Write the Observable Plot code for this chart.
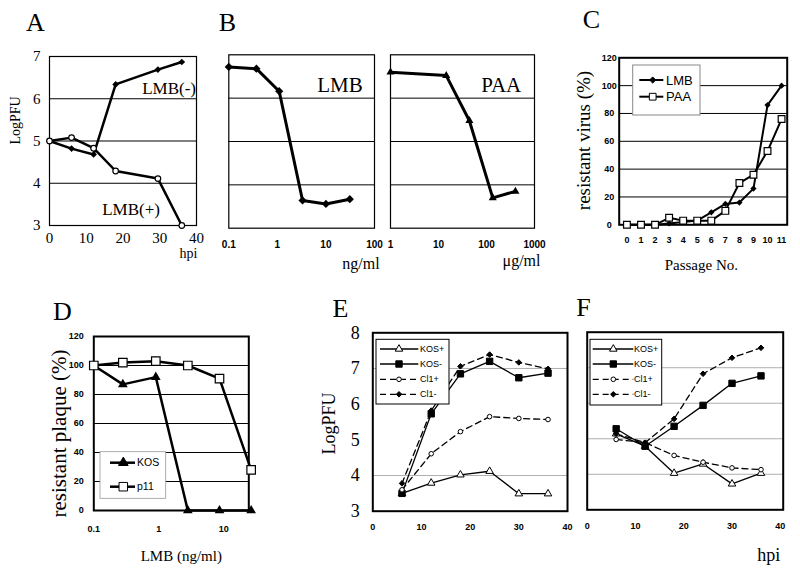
<!DOCTYPE html>
<html><head><meta charset="utf-8">
<script src="https://cdn.jsdelivr.net/npm/d3@7"></script>
<script src="https://cdn.jsdelivr.net/npm/@observablehq/plot@0.6"></script>
<style>
body{margin:0;background:#fff;}
#fig{position:relative;width:800px;height:572px;overflow:hidden;background:#fff;}
#fig svg{position:absolute;}
</style>
</head><body><div id="fig"></div>
<script>
// ---------- DATA ----------
// Panel A: LogPFU vs hpi
const hpiA = [0, 6, 12, 18, 29.5, 36];
const lmbMinusA = [5.0, 4.82, 4.68, 6.34, 6.69, 6.87];
const lmbPlusA = [5.0, 5.08, 4.83, 4.29, 4.11, 3.0];
// Panel B: dose response
const lmbConcB = [0.1, 0.37, 1.09, 3.3, 10, 31];
const lmbLogB = [6.72, 6.68, 6.16, 3.64, 3.56, 3.67];
const paaConcB = [1, 14.5, 44, 135, 400];
const paaLogB = [6.6, 6.52, 5.48, 3.70, 3.85];
// Panel C: resistant virus (%) vs passage
const passageC = [0, 1, 2, 3, 4, 5, 6, 7, 8, 9, 10, 11];
const lmbResistC = [0, 0, 0, 1, 2, 3, 9, 15, 16, 26, 86, 100];
const paaResistC = [0, 0, 0, 5, 3, 3, 3, 10, 30, 36, 53, 76];
// Panel D: resistant plaque (%) vs LMB
const lmbConcD = [0.1, 0.28, 0.9, 2.8, 8.6, 26.4];
const kosD = [100, 87, 92, 0, 0, 0];
const p11D = [100, 102, 103, 100, 91, 28];
// Panels E & F: LogPFU vs hpi
const hpiEF = [6, 12, 18, 24, 30, 36];
const eKosPlus = [3.5, 3.79, 4.02, 4.12, 3.49, 3.49];
const eKosMinus = [3.5, 5.73, 6.85, 7.2, 6.74, 6.87];
const eCl1Plus = [3.6, 4.61, 5.23, 5.65, 5.6, 5.57];
const eCl1Minus = [3.78, 5.82, 7.06, 7.39, 7.17, 6.99];
const fKosPlus = [5.14, 4.79, 4.03, 4.29, 3.73, 4.03];
const fKosMinus = [5.28, 4.79, 5.35, 5.94, 6.56, 6.77];
const fCl1Plus = [4.98, 4.89, 4.53, 4.34, 4.18, 4.13];
const fCl1Minus = [5.14, 4.89, 5.56, 6.83, 7.28, 7.56];
// tick labels
const ticksA_x = [0, 10, 20, 30, 40];
const ticksA_y = [3, 4, 5, 6, 7];
const ticksB_lmb = [0.1, 1, 10, 100];
const ticksB_paa = [1, 10, 100, 1000];
const ticksPct = [0, 20, 40, 60, 80, 100, 120];
const ticksD_x = [0.1, 1, 10];
const ticksEF_x = [0, 10, 20, 30, 40];
const ticksE_y = [3, 4, 5, 6, 7, 8];
const efSeries = ["KOS+", "KOS-", "Cl1+", "Cl1-"];

// ---------- HELPERS ----------
const SERIF = "'Liberation Serif','Times New Roman',serif";
const SANS = "'Liberation Sans',Arial,sans-serif";
const SYM = {diamond2: d3.symbolDiamond2, square: d3.symbolSquare, triangle: d3.symbolTriangle, circle: d3.symbolCircle};
const fig = document.getElementById("fig");

function label(s, x, y, size, m, o = {}) {
  return Plot.text([s], {
    frameAnchor: "top-left", dx: x - m.l, dy: y - m.t, text: d => d,
    fontSize: size, fontFamily: o.font || SERIF, fontWeight: o.weight || "normal",
    rotate: o.rotate || 0, textAnchor: o.anchor || "middle", lineAnchor: "middle", fill: "black"
  });
}
function place(p, left, top) {
  p.style.left = left + "px"; p.style.top = top + "px";
  fig.appendChild(p);
  return p;
}
function plot(m, w, h, x, y, marks) {
  return Plot.plot({
    width: w, height: h, marginTop: m.t, marginRight: m.r, marginBottom: m.b, marginLeft: m.l,
    x: {...x, axis: null}, y: {...y, axis: null},
    style: {background: "transparent", overflow: "visible"},
    marks
  });
}
function legend(svg, box, cfg, items) {
  const g = d3.select(svg).append("g");
  g.append("rect").attr("x", box.x).attr("y", box.y).attr("width", box.w).attr("height", box.h)
    .attr("fill", "white").attr("stroke", box.stroke).attr("stroke-width", box.sw);
  items.forEach((it, i) => {
    const y = cfg.ys[i];
    g.append("line").attr("x1", cfg.x1).attr("x2", cfg.x2).attr("y1", y).attr("y2", y)
      .attr("stroke", "black").attr("stroke-width", it.sw).attr("stroke-dasharray", it.dash || null);
    g.append("path").attr("d", d3.symbol(SYM[it.symbol], Math.PI * it.r * it.r)())
      .attr("transform", `translate(${cfg.mx},${y})`).attr("fill", it.fill).attr("stroke", "black").attr("stroke-width", 1);
    g.append("text").attr("x", cfg.tx).attr("y", y).attr("dy", "0.35em").attr("font-family", SANS)
      .attr("text-anchor", "start").attr("font-size", cfg.size).attr("fill", "black").text(it.name);
  });
}
function series(xs, ys) { return xs.map((x, i) => ({x, y: ys[i]})); }

// ---------- PANEL A ----------
{
  const m = {t: 56, r: 19, b: 45, l: 49};
  const minus = series(hpiA, lmbMinusA), plus = series(hpiA, lmbPlusA);
  const p = plot(m, 215, 270, {domain: [0, 40]}, {domain: [3, 7]}, [
    Plot.ruleY([4, 5, 6], {stroke: "black", strokeWidth: 1}),
    Plot.frame({stroke: "black", strokeWidth: 1.2}),
    Plot.axisX(ticksA_x, {tickSize: 0, tickPadding: 7, fontSize: 15, fontFamily: SERIF, label: null}),
    Plot.axisY(ticksA_y, {tickSize: 0, tickPadding: 9, fontSize: 15, fontFamily: SERIF, label: null}),
    Plot.line(minus, {x: "x", y: "y", stroke: "black", strokeWidth: 2.5}),
    Plot.line(plus, {x: "x", y: "y", stroke: "black", strokeWidth: 2.5}),
    Plot.dot(minus, {x: "x", y: "y", symbol: "diamond2", r: 3, fill: "black"}),
    Plot.dot(plus, {x: "x", y: "y", symbol: "circle", r: 2.8, fill: "white", stroke: "black", strokeWidth: 1.2}),
    label("A", 35, 22, 26, m),
    label("LogPFU", 15, 120, 14, m, {rotate: -90}),
    label("hpi", 188, 253, 14, m),
    label("LMB(-)", 141.7, 88, 17, m, {anchor: "start"}),
    label("LMB(+)", 101.7, 209, 17, m, {anchor: "start"})
  ]);
  place(p, 0, 0);
}

// ---------- PANEL B (LMB) ----------
{
  const m = {t: 54.3, r: 6, b: 42.3, l: 13.3};
  const d = series(lmbConcB, lmbLogB);
  const p = plot(m, 165, 270, {type: "log", domain: [0.1, 100]}, {domain: [3, 7]}, [
    Plot.ruleY([4, 5, 6], {stroke: "black", strokeWidth: 1}),
    Plot.frame({stroke: "black", strokeWidth: 1.2}),
    Plot.axisX(ticksB_lmb, {tickSize: 0, tickPadding: 13, fontSize: 10, fontWeight: "bold", fontFamily: SANS, tickFormat: v => String(v), label: null}),
    Plot.line(d, {x: "x", y: "y", stroke: "black", strokeWidth: 3}),
    Plot.dot(d, {x: "x", y: "y", symbol: "diamond2", r: 3.7, fill: "black"}),
    label("B", 12, 22, 26, m),
    label("LMB", 101.7, 85, 21, m, {anchor: "start"}),
    label("ng/ml", 145.5, 263, 16, m)
  ]);
  place(p, 215, 0);
}
// ---------- PANEL B (PAA) ----------
{
  const m = {t: 54.3, r: 14, b: 42.3, l: 10};
  const d = series(paaConcB, paaLogB);
  const p = plot(m, 168, 270, {type: "log", domain: [1, 1000]}, {domain: [3, 7]}, [
    Plot.ruleY([4, 5, 6], {stroke: "black", strokeWidth: 1}),
    Plot.frame({stroke: "black", strokeWidth: 1.2}),
    Plot.axisX(ticksB_paa, {tickSize: 0, tickPadding: 13, fontSize: 10, fontWeight: "bold", fontFamily: SANS, tickFormat: v => String(v), label: null}),
    Plot.line(d, {x: "x", y: "y", stroke: "black", strokeWidth: 3}),
    Plot.dot(d, {x: "x", y: "y", symbol: "triangle", r: 3, fill: "black"}),
    label("PAA", 100.7, 85, 21, m, {anchor: "start"}),
    label("\u03bcg/ml", 141, 260, 16, m)
  ]);
  place(p, 380, 0);
}

// ---------- PANEL C ----------
{
  const m = {t: 57.3, r: 13.3, b: 55.7, l: 70.7};
  const lmb = series(passageC, lmbResistC), paa = series(passageC, paaResistC);
  const p = plot(m, 252, 280, {domain: [-0.55, 11.4]}, {domain: [0, 120]}, [
    Plot.ruleY([20, 40, 60, 80, 100], {stroke: "black", strokeWidth: 1}),
    Plot.frame({stroke: "black", strokeWidth: 2}),
    Plot.axisX(passageC, {tickSize: 0, tickPadding: 11.5, fontSize: 9, fontWeight: "bold", fontFamily: SANS, label: null}),
    Plot.axisY(ticksPct, {tickSize: 0, tickPadding: 10, textAnchor: "middle", fontSize: 9, fontWeight: "bold", fontFamily: SANS, label: null}),
    Plot.line(lmb, {x: "x", y: "y", stroke: "black", strokeWidth: 2}),
    Plot.line(paa, {x: "x", y: "y", stroke: "black", strokeWidth: 2}),
    Plot.dot(lmb, {x: "x", y: "y", symbol: "diamond2", r: 2.8, fill: "black"}),
    Plot.dot(paa, {x: "x", y: "y", symbol: "square", r: 3.8, fill: "white", stroke: "black", strokeWidth: 1.2}),
    label("C", 43, 19, 26, m),
    label("resistant virus (%)", 35.3, 140, 19, m, {rotate: -90}),
    label("Passage No.", 152.8, 265, 15, m)
  ]);
  place(p, 548, 0);
  legend(p, {x: 84.7, y: 65, w: 67.3, h: 50, stroke: "#888", sw: 1},
    {ys: [80, 96.7], x1: 91.3, x2: 115.3, mx: 104.7, tx: 118, size: 13},
    [{name: "LMB", symbol: "diamond2", r: 2.8, fill: "black", sw: 2},
     {name: "PAA", symbol: "square", r: 3.8, fill: "white", sw: 2}]);
}

// ---------- PANEL D ----------
{
  const m = {t: 56, r: 41.7, b: 62, l: 93.3};
  const kos = series(lmbConcD, kosD), p11 = series(lmbConcD, p11D);
  const p = plot(m, 290, 292, {type: "log", domain: [0.1, 24.3]}, {domain: [0, 120]}, [
    Plot.ruleY([20, 40, 60, 80, 100], {stroke: "black", strokeWidth: 1}),
    Plot.frame({stroke: "black", strokeWidth: 2}),
    Plot.axisX(ticksD_x, {tickSize: 0, tickPadding: 15, fontSize: 9, fontWeight: "bold", fontFamily: SANS, tickFormat: v => String(v), label: null}),
    Plot.axisY(ticksPct, {tickSize: 0, tickPadding: 10, fontSize: 9, fontWeight: "bold", fontFamily: SANS, label: null}),
    Plot.line(kos, {x: "x", y: "y", stroke: "black", strokeWidth: 2.5}),
    Plot.line(p11, {x: "x", y: "y", stroke: "black", strokeWidth: 2.5}),
    Plot.dot(kos, {x: "x", y: "y", symbol: "triangle", r: 3.6, fill: "black"}),
    Plot.dot(p11, {x: "x", y: "y", symbol: "square", r: 4.8, fill: "white", stroke: "black", strokeWidth: 1.2}),
    label("D", 62, 31, 26, m),
    label("resistant plaque (%)", 58.3, 153, 21, m, {rotate: -90}),
    label("LMB (ng/ml)", 180.8, 276, 15, m)
  ]);
  place(p, 0, 280);
  legend(p, {x: 100, y: 171.7, w: 65.7, h: 46.6, stroke: "#999", sw: 0.8},
    {ys: [182.7, 206.7], x1: 110, x2: 135, mx: 123.3, tx: 137, size: 10.5},
    [{name: "KOS", symbol: "triangle", r: 3.6, fill: "black", sw: 2.5},
     {name: "p11", symbol: "square", r: 4.8, fill: "white", sw: 2.5}]);
}

// ---------- PANELS E & F ----------
const efStyle = [
  {symbol: "triangle", r: 2.8, fill: "white", dash: null},
  {symbol: "square", r: 3.6, fill: "black", dash: null},
  {symbol: "circle", r: 2.3, fill: "white", dash: "6,4"},
  {symbol: "diamond2", r: 2.5, fill: "black", dash: "6,4"}
];
function efMarks(vals) {
  const out = [];
  vals.forEach((v, i) => {
    const d = series(hpiEF, v), s = efStyle[i];
    out.push(Plot.line(d, {x: "x", y: "y", stroke: "black", strokeWidth: 1.3, strokeDasharray: s.dash}));
  });
  vals.forEach((v, i) => {
    const d = series(hpiEF, v), s = efStyle[i];
    out.push(Plot.dot(d, {x: "x", y: "y", symbol: s.symbol, r: s.r, fill: s.fill, stroke: "black", strokeWidth: 1}));
  });
  return out;
}
const efItems = efSeries.map((name, i) => ({name, ...efStyle[i], sw: 1.3}));
{
  const m = {t: 52.3, r: 9, b: 61.3, l: 72.3};
  const p = plot(m, 276, 292, {domain: [0, 40]}, {domain: [3, 8]}, [
    Plot.ruleY([4, 7], {stroke: "#999", strokeWidth: 0.8}),
    Plot.frame({stroke: "black", strokeWidth: 2}),
    Plot.axisX(ticksEF_x, {tickSize: 0, tickPadding: 12.5, fontSize: 9, fontWeight: "bold", fontFamily: SANS, label: null}),
    Plot.axisY(ticksE_y, {tickSize: 0, tickPadding: 13, fontSize: 18, fontFamily: SERIF, label: null}),
    ...efMarks([eKosPlus, eKosMinus, eCl1Plus, eCl1Minus]),
    label("E", 40, 28, 26, m),
    label("LogPFU", 28.3, 143, 18, m, {rotate: -90})
  ]);
  place(p, 300, 280);
  legend(p, {x: 76, y: 59.3, w: 73, h: 64.7, stroke: "black", sw: 1},
    {ys: [69, 84, 99.3, 114.3], x1: 80, x2: 118.3, mx: 99, tx: 120, size: 9}, efItems);
}
{
  const m = {t: 51.7, r: 17.3, b: 62.7, l: 10.7};
  const p = plot(m, 224, 292, {domain: [0, 40.6]}, {domain: [3, 8]}, [
    Plot.ruleY([4, 5, 6, 7], {stroke: "#999", strokeWidth: 0.8}),
    Plot.frame({stroke: "black", strokeWidth: 2}),
    Plot.axisX(ticksEF_x, {tickSize: 0, tickPadding: 12.5, fontSize: 9, fontWeight: "bold", fontFamily: SANS, label: null}),
    ...efMarks([fKosPlus, fKosMinus, fCl1Plus, fCl1Minus]),
    label("F", 7, 27, 26, m),
    label("hpi", 192.3, 275, 18, m)
  ]);
  place(p, 576, 280);
  legend(p, {x: 14, y: 59.3, w: 71.7, h: 65.7, stroke: "black", sw: 1},
    {ys: [69, 84, 99.3, 114.3], x1: 16.7, x2: 57.3, mx: 37.3, tx: 58, size: 9}, efItems);
}
</script></body></html>
